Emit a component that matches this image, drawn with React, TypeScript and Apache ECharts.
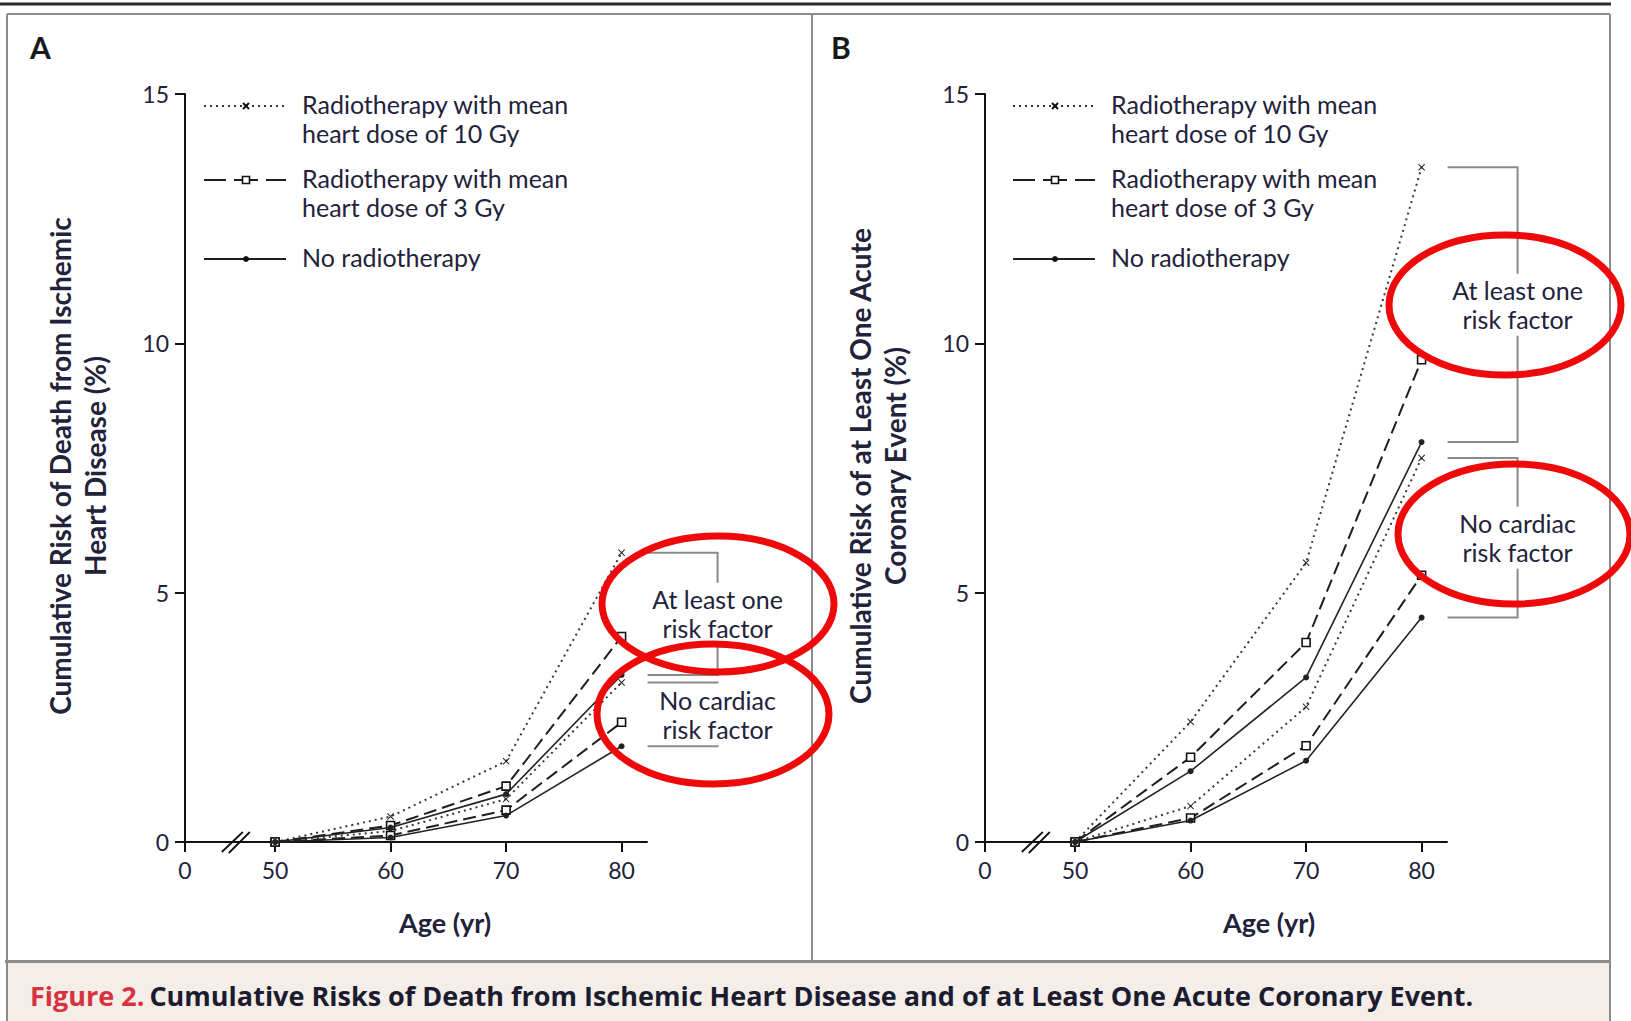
import React, { useEffect, useRef } from "react";
import * as echarts from "echarts";

// ---------- data ----------
const ages = [50, 60, 70, 80];
// 42.2 on the value axis stands for the broken-axis origin, labelled "0"
const axisOrigin = 42.2;
const axisEnd = 82.2;
const xTickValues = [axisOrigin, 50, 60, 70, 80];
const breakAt = 46.6;

// Panel A: cumulative risk of death from ischemic heart disease (%)
const aTenGyRisk = [0, 0.51, 1.62, 5.8];
const aThreeGyRisk = [0, 0.33, 1.12, 4.12];
const aNoRtRisk = [0, 0.29, 0.96, 3.35];
const aTenGyNoRisk = [0, 0.22, 0.86, 3.2];
const aThreeGyNoRisk = [0, 0.13, 0.64, 2.4];
const aNoRtNoRisk = [0, 0.09, 0.53, 1.92];

// Panel B: cumulative risk of at least one acute coronary event (%)
const bTenGyRisk = [0, 2.41, 5.6, 13.53];
const bThreeGyRisk = [0, 1.7, 4.0, 9.67];
const bNoRtRisk = [0, 1.42, 3.3, 8.02];
const bTenGyNoRisk = [0, 0.72, 2.71, 7.7];
const bThreeGyNoRisk = [0, 0.48, 1.93, 5.35];
const bNoRtNoRisk = [0, 0.43, 1.63, 4.5];

const seriesNames = [
  "Radiotherapy with mean heart dose of 10 Gy",
  "Radiotherapy with mean heart dose of 3 Gy",
  "No radiotherapy",
];
const legendLines = [
  ["Radiotherapy with mean", "heart dose of 10 Gy"],
  ["Radiotherapy with mean", "heart dose of 3 Gy"],
  ["No radiotherapy"],
];
const groupLabels = [
  ["At least one", "risk factor"],
  ["No cardiac", "risk factor"],
];
const panelLetters = ["A", "B"];
const yTitles = [
  ["Cumulative Risk of Death from Ischemic", "Heart Disease (%)"],
  ["Cumulative Risk of at Least One Acute", "Coronary Event (%)"],
];
const xTitle = "Age (yr)";
const captionLead = "Figure 2.";
const captionText =
  "Cumulative Risks of Death from Ischemic Heart Disease and of at Least One Acute Coronary Event.";

const panels = [
  { risk: [aTenGyRisk, aThreeGyRisk, aNoRtRisk], noRisk: [aTenGyNoRisk, aThreeGyNoRisk, aNoRtNoRisk] },
  { risk: [bTenGyRisk, bThreeGyRisk, bNoRtRisk], noRisk: [bTenGyNoRisk, bThreeGyNoRisk, bNoRtNoRisk] },
];

// ---------- styles ----------
const FONT = "Lato, 'Open Sans', sans-serif";
const CAPTION_FONT = "'Open Sans', Lato, sans-serif";
const INK = "#22223a";
const X_SYMBOL = "path://M1,0L5,4L9,0L10,1L6,5L10,9L9,10L5,6L1,10L0,9L4,5L0,1Z";
const lineStyles: any[] = [
  {
    lineStyle: { type: [2, 4], width: 2, color: "#3a3a3a" },
    symbol: X_SYMBOL,
    symbolSize: 7,
    itemStyle: { color: "#222" },
  },
  {
    lineStyle: { type: [13, 6], width: 2, color: "#1e1e1e" },
    symbol: "rect",
    symbolSize: 8,
    itemStyle: { color: "#fff", borderColor: "#111", borderWidth: 1.6 },
  },
  {
    lineStyle: { type: "solid", width: 1.6, color: "#222" },
    symbol: "circle",
    symbolSize: 6,
    itemStyle: { color: "#222" },
  },
];

const gridLefts = [185, 985];
const GRID_TOP = 94;
const GRID_H = 748;
const GRID_W = 462;

function buildOption() {
  const grid = gridLefts.map((left) => ({ left, top: GRID_TOP, width: GRID_W, height: GRID_H }));
  const axisLine = { show: true, lineStyle: { color: "#111", width: 2 } };
  const axisTickStyle = { show: true, length: 10, lineStyle: { color: "#111", width: 2 } };
  const xAxis = gridLefts.map((_, i) => ({
    type: "value",
    gridIndex: i,
    min: axisOrigin,
    max: axisEnd,
    axisLine: { ...axisLine, onZero: false },
    axisTick: { ...axisTickStyle, customValues: xTickValues },
    axisLabel: {
      customValues: xTickValues,
      formatter: (v: number) => (v < 45 ? "0" : String(v)),
      color: INK,
      fontSize: 23,
      fontFamily: FONT,
      margin: 16,
    },
    splitLine: { show: false },
  }));
  const yAxis = gridLefts.map((_, i) => ({
    type: "value",
    gridIndex: i,
    min: 0,
    max: 15,
    interval: 5,
    axisLine,
    axisTick: axisTickStyle,
    axisLabel: { color: INK, fontSize: 23, fontFamily: FONT, margin: 16 },
    splitLine: { show: false },
  }));

  const series: any[] = [];
  panels.forEach((p, pi) => {
    [p.noRisk, p.risk].forEach((group) => {
      group.forEach((arr, k) => {
        series.push({
          type: "line",
          name: seriesNames[k],
          xAxisIndex: pi,
          yAxisIndex: pi,
          data: ages.map((a, j) => [a, arr[j]]),
          showSymbol: true,
          ...lineStyles[k],
          z: 3 + k,
        });
      });
    });
    const last = ages.length - 1;
    const riskEnds = p.risk.map((a) => a[last]);
    const noRiskEnds = p.noRisk.map((a) => a[last]);
    series.push({
      type: "custom",
      name: "brackets",
      xAxisIndex: pi,
      yAxisIndex: pi,
      clip: false,
      silent: true,
      encode: { x: 0, y: 1 },
      data: [
        [ages[last], Math.max(...riskEnds), Math.min(...riskEnds), 0],
        [ages[last], Math.max(...noRiskEnds), Math.min(...noRiskEnds), 1],
      ],
      renderItem: (params: any, api: any) => {
        const top = api.coord([api.value(0), api.value(1)]);
        const bot = api.coord([api.value(0), api.value(2)]);
        const idx = api.value(3);
        const x0 = top[0] + 26;
        const x1 = top[0] + 96;
        const mid = (top[1] + bot[1]) / 2;
        const gap = 31;
        const st = { stroke: "#8a8a8a", lineWidth: 2, fill: "none" };
        return {
          type: "group",
          children: [
            { type: "polyline", shape: { points: [[x0, top[1]], [x1, top[1]], [x1, Math.max(top[1], mid - gap)]] }, style: st },
            { type: "polyline", shape: { points: [[x1, Math.min(bot[1], mid + gap)], [x1, bot[1]], [x0, bot[1]]] }, style: st },
            {
              type: "text",
              x: x1,
              y: mid,
              style: {
                text: groupLabels[idx].join("\n"),
                fill: INK,
                fontSize: 25,
                fontFamily: FONT,
                lineHeight: 29,
                align: "center",
                verticalAlign: "middle",
                textAlign: "center",
                textVerticalAlign: "middle",
              },
            },
          ],
        };
      },
    });
    series.push({
      type: "custom",
      name: "axis break",
      xAxisIndex: pi,
      yAxisIndex: pi,
      clip: false,
      silent: true,
      encode: { x: 0, y: 1 },
      data: [[breakAt, 0]],
      renderItem: (params: any, api: any) => {
        const c = api.coord([api.value(0), api.value(1)]);
        const st = { stroke: "#111", lineWidth: 1.8 };
        return {
          type: "group",
          children: [
            { type: "line", shape: { x1: c[0] - 14, y1: c[1] + 10, x2: c[0] + 7, y2: c[1] - 10 }, style: st },
            { type: "line", shape: { x1: c[0] - 7, y1: c[1] + 11, x2: c[0] + 14, y2: c[1] - 10 }, style: st },
          ],
        };
      },
    });
  });

  // ---------- graphic decorations ----------
  const g: any[] = [];
  const frame = { stroke: "#8c8c8c", lineWidth: 2 };
  g.push({ type: "rect", shape: { x: 8, y: 963, width: 1601, height: 58 }, style: { fill: "#f4ede8" }, z: 0 });
  g.push({ type: "line", shape: { x1: 0, y1: 4, x2: 1611, y2: 4 }, style: { stroke: "#2a2a2a", lineWidth: 3 } });
  g.push({ type: "line", shape: { x1: 7, y1: 14, x2: 1610, y2: 14 }, style: frame });
  g.push({ type: "line", shape: { x1: 7, y1: 14, x2: 7, y2: 1021 }, style: frame });
  g.push({ type: "line", shape: { x1: 1610, y1: 14, x2: 1610, y2: 1021 }, style: frame });
  g.push({ type: "line", shape: { x1: 812, y1: 14, x2: 812, y2: 961 }, style: frame });
  g.push({ type: "line", shape: { x1: 5, y1: 961.5, x2: 1611, y2: 961.5 }, style: { stroke: "#8c8c8c", lineWidth: 3 } });

  const legendX = [204, 1013];
  const rowsY = [106, 180, 259];
  legendX.forEach((lx, pi) => {
    // panel letter
    g.push({
      type: "text",
      x: pi === 0 ? 30 : 831,
      y: 47,
      style: { text: panelLetters[pi], fill: "#1a1a1a", fontSize: 30, fontWeight: "bold", fontFamily: FONT, textVerticalAlign: "middle", verticalAlign: "middle" },
    });
    // y title
    g.push({
      type: "text",
      x: pi === 0 ? 77 : 877,
      y: 466,
      rotation: Math.PI / 2,
      style: {
        text: yTitles[pi].join("\n"),
        fill: INK,
        fontSize: 28,
        fontWeight: "bold",
        fontFamily: FONT,
        lineHeight: 35,
        align: "center",
        verticalAlign: "middle",
        textAlign: "center",
        textVerticalAlign: "middle",
      },
    });
    // x title
    g.push({
      type: "text",
      x: pi === 0 ? 445 : 1269,
      y: 922,
      style: { text: xTitle, fill: INK, fontSize: 27, fontWeight: "bold", fontFamily: FONT, align: "center", verticalAlign: "middle", textAlign: "center", textVerticalAlign: "middle" },
    });
    // legend
    rowsY.forEach((y, k) => {
      if (k === 0) {
        g.push({ type: "line", shape: { x1: lx, y1: y, x2: lx + 82, y2: y }, style: { stroke: "#333", lineWidth: 2, lineDash: [2, 4] } });
        g.push({ type: "line", shape: { x1: lx + 39, y1: y - 3, x2: lx + 45, y2: y + 3 }, style: { stroke: "#111", lineWidth: 2 } });
        g.push({ type: "line", shape: { x1: lx + 39, y1: y + 3, x2: lx + 45, y2: y - 3 }, style: { stroke: "#111", lineWidth: 2 } });
      } else if (k === 1) {
        [[0, 22], [30, 54], [62, 82]].forEach(([a, b]) =>
          g.push({ type: "line", shape: { x1: lx + a, y1: y, x2: lx + b, y2: y }, style: { stroke: "#1e1e1e", lineWidth: 2 } })
        );
        g.push({ type: "rect", shape: { x: lx + 38.5, y: y - 3.5, width: 7, height: 7 }, style: { fill: "#fff", stroke: "#111", lineWidth: 1.6 } });
      } else {
        g.push({ type: "line", shape: { x1: lx, y1: y, x2: lx + 82, y2: y }, style: { stroke: "#1e1e1e", lineWidth: 2 } });
        g.push({ type: "circle", shape: { cx: lx + 42, cy: y, r: 3 }, style: { fill: "#111" } });
      }
      g.push({
        type: "text",
        x: lx + 98,
        y: y - 16.5,
        style: { text: legendLines[k].join("\n"), fill: INK, fontSize: 25, fontFamily: FONT, lineHeight: 29, verticalAlign: "top", textVerticalAlign: "top" },
      });
    });
  });

  // red hand-drawn ellipses (annotation overlay)
  const ellipses = [
    [718, 604, 116, 68],
    [713, 714, 116, 70],
    [1505, 305, 116, 70],
    [1514, 534, 116, 70],
  ];
  ellipses.forEach(([cx, cy, rx, ry]) =>
    g.push({ type: "ellipse", z: 100, shape: { cx, cy, rx, ry }, style: { fill: "none", stroke: "#ee0a0a", lineWidth: 7 } })
  );

  return {
    animation: false,
    backgroundColor: "#ffffff",
    title: {
      left: 30,
      top: 982,
      text: `{r|${captionLead}} {k|${captionText}}`,
      textStyle: {
        rich: {
          r: { color: "#d8323e", fontSize: 27, fontWeight: "bold", fontFamily: CAPTION_FONT },
          k: { color: "#1c1c30", fontSize: 27, fontWeight: "bold", fontFamily: CAPTION_FONT },
        },
      },
      padding: 0,
    },
    grid,
    xAxis,
    yAxis,
    series,
    graphic: { elements: g },
  };
}

export default function App() {
  const ref = useRef<HTMLDivElement>(null);
  useEffect(() => {
    if (!ref.current) return;
    const chart = echarts.init(ref.current, undefined, { renderer: "svg" });
    chart.setOption(buildOption() as any);
    return () => chart.dispose();
  }, []);
  return (
    <div
      ref={ref}
      style={{ position: "absolute", left: 0, top: 0, width: 1631, height: 1021, background: "#fff" }}
    />
  );
}
